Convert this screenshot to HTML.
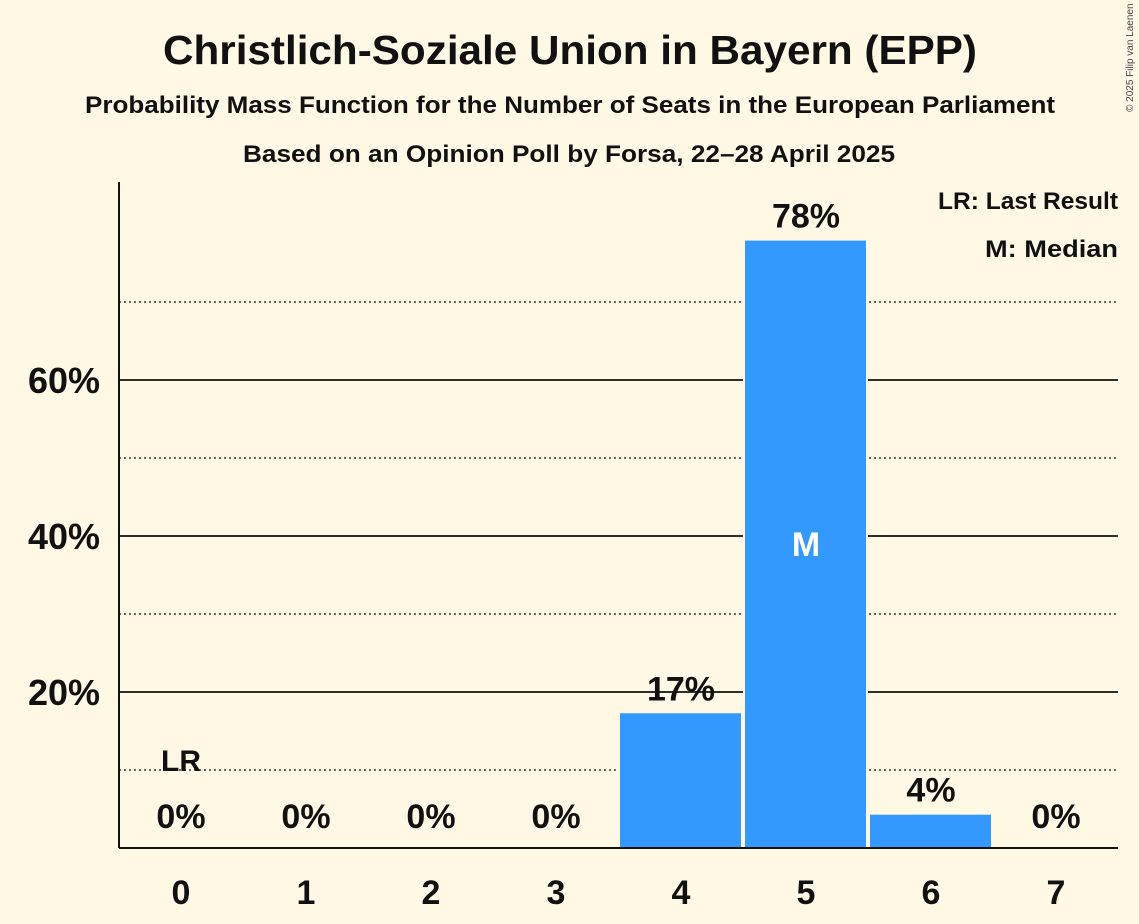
<!DOCTYPE html>
<html><head><meta charset="utf-8"><style>
body{margin:0;background:#fff8e5;}
svg{display:block;font-family:"Liberation Sans",sans-serif;}
</style></head><body>
<svg id="chart" width="1139" height="924">
<rect width="1139" height="924" fill="#fff8e5"/>
<text x="570" y="64" text-anchor="middle" font-size="41" font-weight="bold" fill="#111" textLength="814" lengthAdjust="spacingAndGlyphs">Christlich-Soziale Union in Bayern (EPP)</text>
<text x="570" y="113" text-anchor="middle" font-size="24" font-weight="bold" fill="#111" textLength="970" lengthAdjust="spacingAndGlyphs">Probability Mass Function for the Number of Seats in the European Parliament</text>
<text x="569" y="162" text-anchor="middle" font-size="24" font-weight="bold" fill="#111" textLength="652" lengthAdjust="spacingAndGlyphs">Based on an Opinion Poll by Forsa, 22–28 April 2025</text>
<text x="1133" y="112" font-size="10" fill="#444" transform="rotate(-90 1133 112)">© 2025 Filip van Laenen</text>
<g id="grid"></g><g id="bars"></g><g id="labels"></g>
<line x1="119" y1="182" x2="119" y2="848" stroke="#111" stroke-width="2"/>
<line x1="119" y1="848" x2="1118" y2="848" stroke="#111" stroke-width="2"/>
<text x="1118" y="209" text-anchor="end" font-size="24" font-weight="bold" fill="#111" textLength="180" lengthAdjust="spacingAndGlyphs">LR: Last Result</text>
<text x="1118" y="257" text-anchor="end" font-size="24" font-weight="bold" fill="#111" textLength="133" lengthAdjust="spacingAndGlyphs">M: Median</text>
</svg>
<script>
const seats=[0,1,2,3,4,5,6,7];
const probs=[0,0,0,0,17.4,78,4.4,0];
const printed=["0%","0%","0%","0%","17%","78%","4%","0%"];
const yTicks=[20,40,60];
const yMinor=[10,30,50,70];
const lastResult=0, median=5;
const NS="http://www.w3.org/2000/svg";
const y=v=>848-v*7.8, x=i=>181+i*125;
function mk(t,a,p){const e=document.createElementNS(NS,t);for(const k in a)e.setAttribute(k,a[k]);p.appendChild(e);return e;}
const g=document.getElementById('grid'),b=document.getElementById('bars'),l=document.getElementById('labels');
yMinor.forEach(v=>{const e=mk('line',{x1:119,x2:1118,y1:y(v),y2:y(v),stroke:'#111','stroke-width':1.2,'stroke-dasharray':'2,3'},g);

});
yTicks.forEach(v=>{const e=mk('line',{x1:119,x2:1118,y1:y(v),y2:y(v),stroke:'#111','stroke-width':1.8},g);


const t=mk('text',{x:100,y:y(v)+13,'text-anchor':'end','font-size':36,'font-weight':'bold',fill:'#111'},l);t.textContent=v+'%';

});
seats.forEach((s,i)=>{
if(probs[i]>0){const r=mk('rect',{x:x(i)-62,y:y(probs[i]),width:123,height:848-y(probs[i]),fill:'#3399ff',stroke:'#fff8e5','stroke-width':2},b);

}
const t=mk('text',{x:x(i),y:y(probs[i])-12,'text-anchor':'middle','font-size':34,'font-weight':'bold',fill:'#111'},l);t.textContent=printed[i];
if(probs[i]==0)t.setAttribute('y',828);


const xt=mk('text',{x:x(i),y:904,'text-anchor':'middle','font-size':34,'font-weight':'bold',fill:'#111'},l);xt.textContent=s;


});
const lr=mk('text',{x:x(lastResult),y:771,'text-anchor':'middle','font-size':30,'font-weight':'bold',fill:'#111'},l);lr.textContent='LR';


const m=mk('text',{x:x(median),y:y(probs[median]/2)+12,'text-anchor':'middle','font-size':34,'font-weight':'bold',fill:'#fff'},l);m.textContent='M';


</script>
</body></html>
